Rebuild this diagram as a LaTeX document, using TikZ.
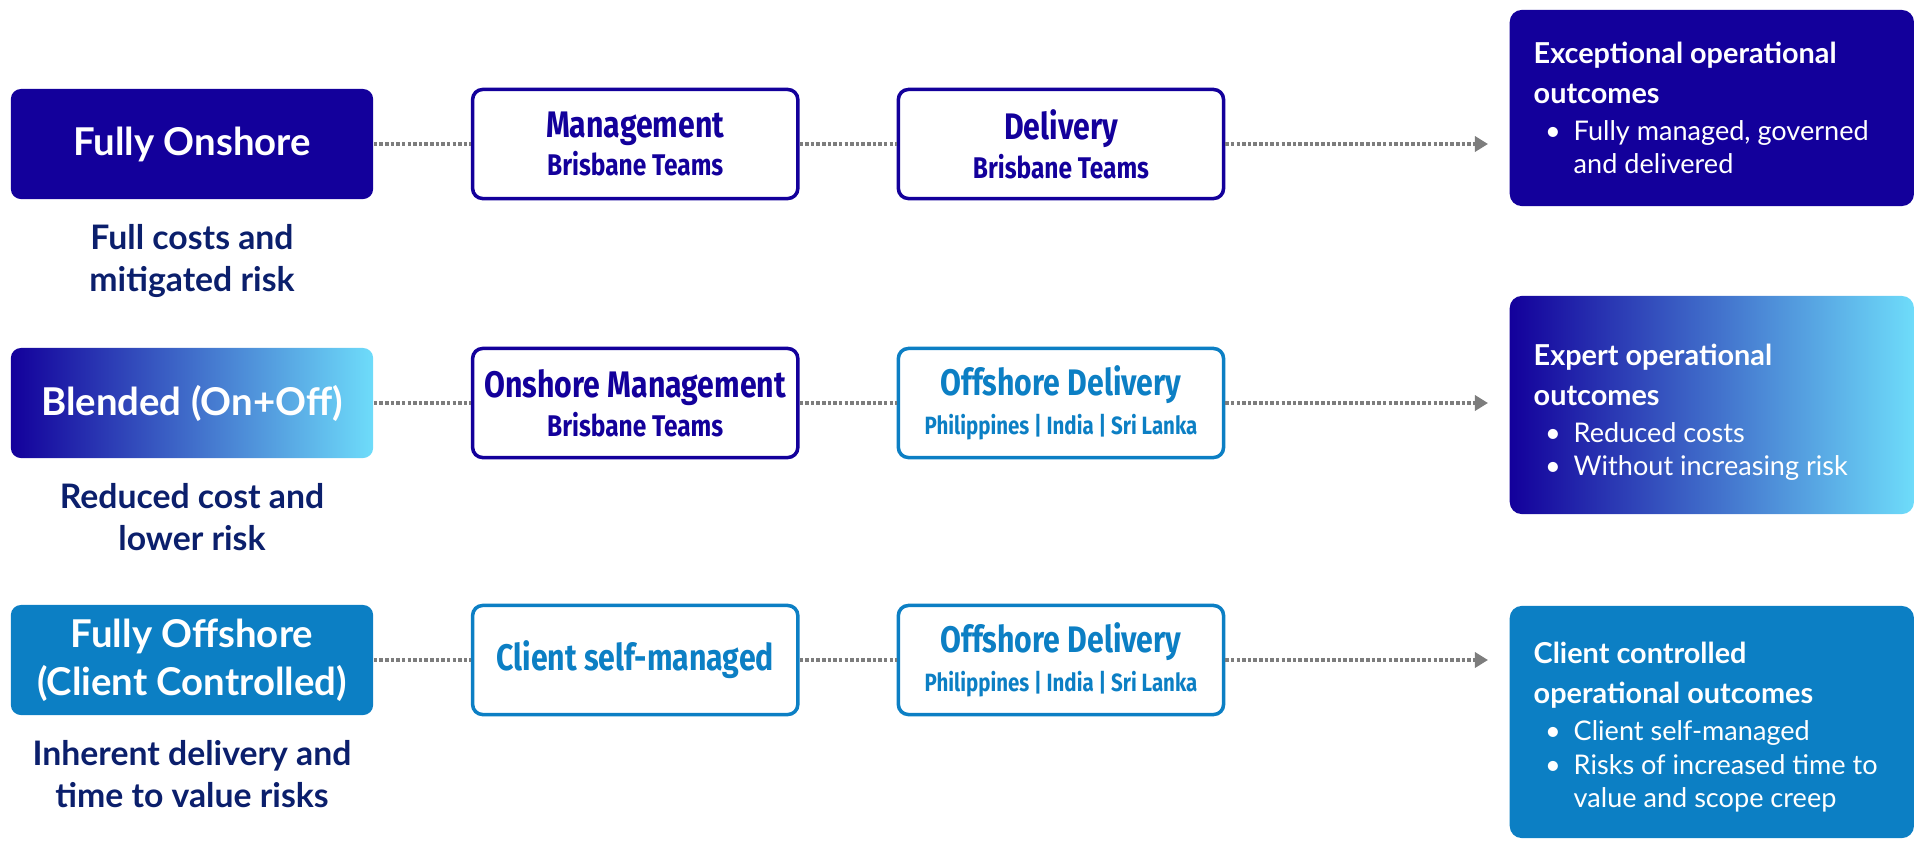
\documentclass[tikz,border=0pt]{standalone}
\usepackage{fontspec}
\setmainfont{Lato}
\newfontfamily\condfont[FakeStretch=0.82]{Fira Sans}
\usetikzlibrary{arrows.meta,positioning}
\definecolor{navy}{RGB}{19,0,155}
\definecolor{offblue}{RGB}{12,127,196}
\definecolor{sky}{RGB}{110,220,250}
\definecolor{ink}{RGB}{11,31,108}
\definecolor{dots}{RGB}{125,125,125}
\newcommand{\teamhead}[1]{{\condfont\bfseries\fontsize{10.5}{12}\selectfont #1}}
\newcommand{\teamsub}[1]{{\condfont\bfseries\fontsize{8.5}{10}\selectfont #1}}
\newcommand{\places}{{\condfont\bfseries\fontsize{7.1}{9}\selectfont Philippines | India | Sri Lanka}}
\newcommand{\outhead}[1]{{\bfseries\fontsize{8.2}{11.4}\selectfont #1\par}\fontsize{7.7}{9.5}\selectfont\vspace{1pt}}
\newcommand{\bitem}[1]{{\leftskip=0.40cm\noindent\llap{\textbullet\hspace{0.13cm}}#1\par}}

\begin{document}
\begin{tikzpicture}[x=0.01cm,y=-0.01cm,
      plan/.style={rounded corners=0.1cm,minimum width=3.62cm,minimum height=1.1cm,align=center,
        text=white,font=\bfseries\fontsize{10.9}{13.6}\selectfont},
      note/.style={align=center,inner sep=0pt,text=ink,font=\bfseries\fontsize{9.6}{11.9}\selectfont},
      team/.style={draw=#1,line width=1pt,rounded corners=0.1cm,minimum width=3.25cm,
        minimum height=1.09cm,align=center,text=#1},
      outcome/.style={rounded corners=0.12cm,minimum width=4.04cm,inner xsep=0.24cm,anchor=west,text=white},
      link/.style={draw=dots,line width=1.1pt,dash pattern=on 1pt off 0.6pt},
      tip/.style={link,-{Triangle[length=0.13cm,width=0.15cm]},shorten >=0.21cm}]
  \useasboundingbox (0,0) rectangle (1920,845);

  \node[plan,fill=navy] (onshore) at (192,144) {Fully Onshore};
  \node[note,below=0.24cm of onshore] (onshoreNote) {Full costs and\\mitigated risk};
  \node[team=navy,right=0.97cm of onshore] (onshoreMgmt) {\teamhead{Management}\\[-1pt]\teamsub{Brisbane Teams}};
  \node[team=navy,right=0.97cm of onshoreMgmt] (onshoreDel) {\teamhead{Delivery}\\[-1pt]\teamsub{Brisbane Teams}};
  \node[outcome,fill=navy,minimum height=1.96cm] (onshoreOut) at (1509,108) {\begin{minipage}{3.56cm}\raggedright
    \outhead{Exceptional operational\\outcomes}
    \bitem{Fully managed, governed\\and delivered}
  \end{minipage}};

  \node[plan,left color=navy,right color=sky] (blend) at (192,403) {Blended (On+Off)};
  \node[note,below=0.24cm of blend] (blendNote) {Reduced cost and\\lower risk};
  \node[team=navy,right=0.97cm of blend] (blendMgmt) {\teamhead{Onshore Management}\\[-1pt]\teamsub{Brisbane Teams}};
  \node[team=offblue,right=0.97cm of blendMgmt] (blendDel) {\teamhead{Offshore Delivery}\\[-1pt]\places};
  \node[outcome,left color=navy,right color=sky,minimum height=2.18cm] (blendOut) at (1509,405) {\begin{minipage}{3.56cm}\raggedright
    \vspace{4pt}\outhead{Expert operational\\outcomes}
    \bitem{Reduced costs}
    \bitem{Without increasing risk}
  \end{minipage}};

  \node[plan,fill=offblue] (offshore) at (192,660) {Fully Offshore\\(Client Controlled)};
  \node[note,below=0.24cm of offshore] (offshoreNote) {Inherent delivery and\\time to value risks};
  \node[team=offblue,right=0.97cm of offshore] (offshoreMgmt) {\teamhead{Client self-managed}};
  \node[team=offblue,right=0.97cm of offshoreMgmt] (offshoreDel) {\teamhead{Offshore Delivery}\\[-1pt]\places};
  \node[outcome,fill=offblue,minimum height=2.32cm] (offshoreOut) at (1509,722) {\begin{minipage}{3.56cm}\raggedright
    \vspace{3pt}\outhead{Client controlled\\operational outcomes}
    \bitem{Client self-managed}
    \bitem{Risks of increased time to\\value and scope creep}
  \end{minipage}};

  \draw[link] (onshore) -- (onshoreMgmt);
  \draw[link] (onshoreMgmt) -- (onshoreDel);
  \draw[tip] (onshoreDel.east) -- (onshoreDel.east -| onshoreOut.west);
  \draw[link] (blend) -- (blendMgmt);
  \draw[link] (blendMgmt) -- (blendDel);
  \draw[tip] (blendDel.east) -- (blendDel.east -| blendOut.west);
  \draw[link] (offshore) -- (offshoreMgmt);
  \draw[link] (offshoreMgmt) -- (offshoreDel);
  \draw[tip] (offshoreDel.east) -- (offshoreDel.east -| offshoreOut.west);
\end{tikzpicture}
\end{document}
